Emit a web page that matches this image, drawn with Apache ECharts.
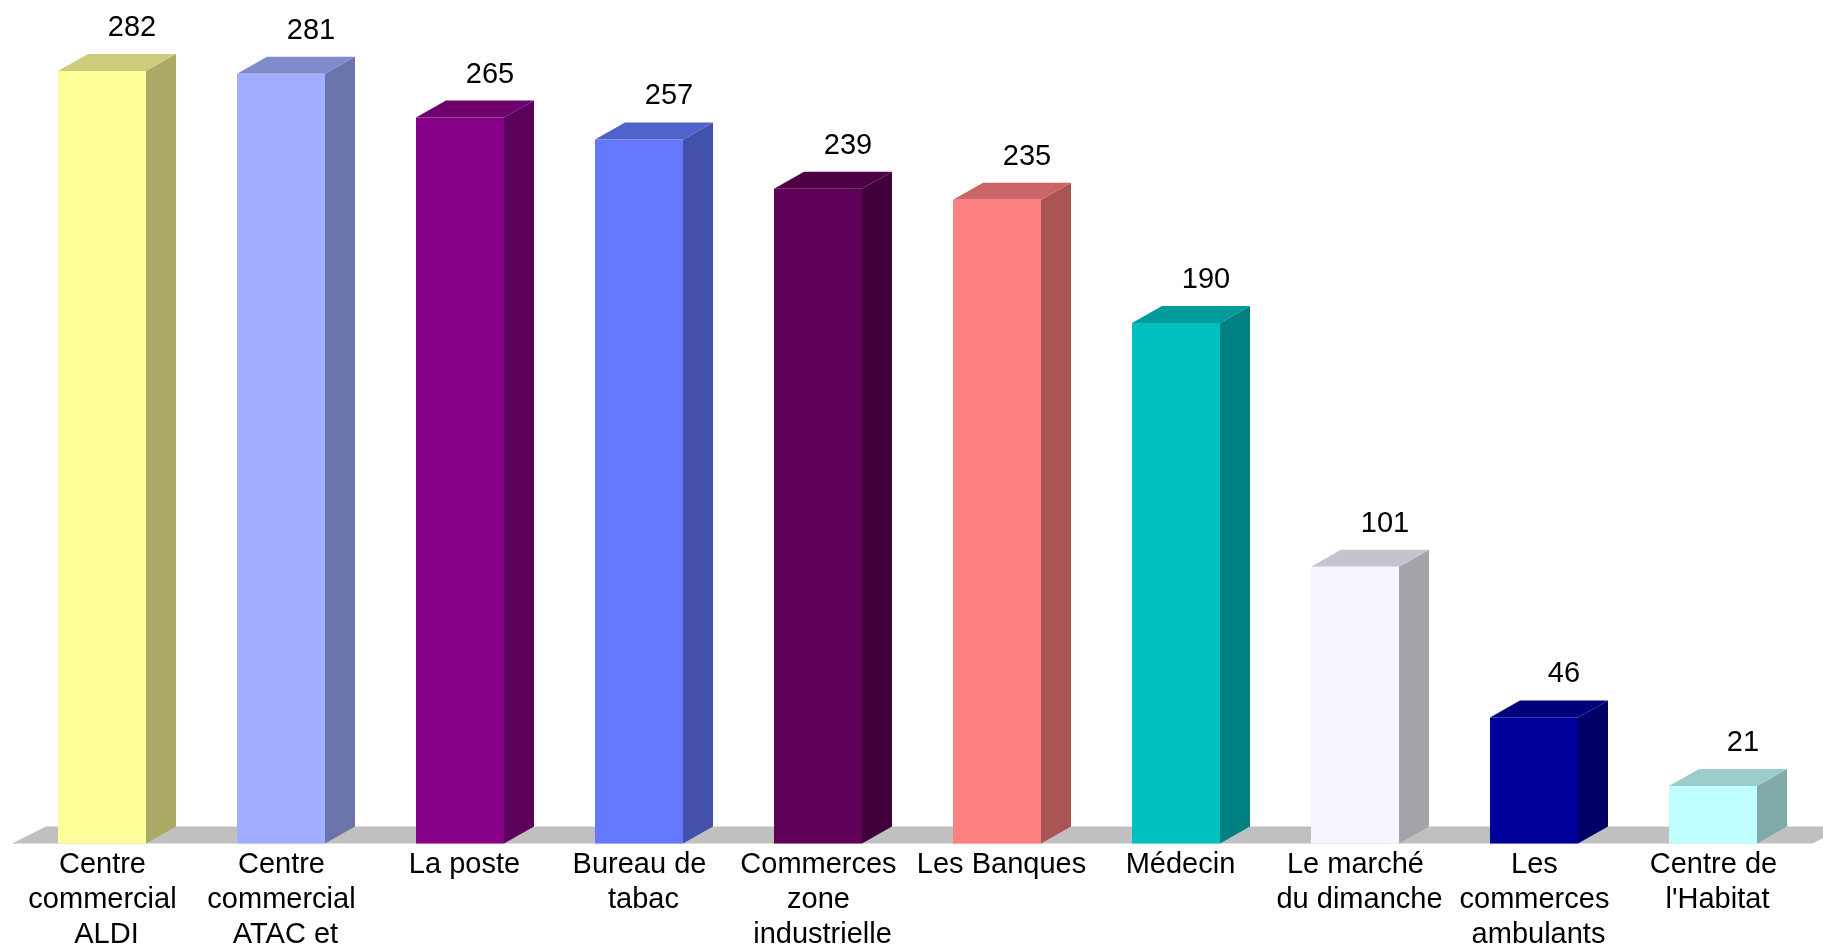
<!DOCTYPE html>
<html>
<head>
<meta charset="utf-8">
<script src="https://cdn.jsdelivr.net/npm/echarts@6/dist/echarts.min.js"></script>
<style>
html,body{margin:0;padding:0;background:#fff;overflow:hidden;}
#chart{width:1823px;height:946px;}
</style>
</head>
<body>
<div id="chart"></div>
<script>
const categories = [
  "Centre commercial ALDI",
  "Centre commercial ATAC et",
  "La poste",
  "Bureau de tabac",
  "Commerces zone industrielle",
  "Les Banques",
  "Médecin",
  "Le marché du dimanche",
  "Les commerces ambulants",
  "Centre de l'Habitat"
];
const values = [282, 281, 265, 257, 239, 235, 190, 101, 46, 21];
const frontColors = ["#FFFF99", "#A0AEFF", "#880088", "#6479FF", "#600058",
                     "#FF8080", "#00C0C0", "#F5F5FF", "#00009A", "#C0FFFF"];

const FONT = '"Liberation Sans", Arial, sans-serif';
const DX = 30, DY = 17;

function shade(hex, f) {
  const n = parseInt(hex.slice(1), 16);
  const r = Math.round(((n >> 16) & 255) * f);
  const g = Math.round(((n >> 8) & 255) * f);
  const b = Math.round((n & 255) * f);
  return 'rgb(' + r + ',' + g + ',' + b + ')';
}

const chart = echarts.init(document.getElementById('chart'));

function renderBar(params, api) {
  const idx = api.value(0);
  const val = api.value(1);
  const topPt = api.coord([idx, val]);
  const basePt = api.coord([idx, 0]);
  const band = api.size([1, 0])[0];
  const w = band * 0.4916;
  const l = topPt[0] - w / 2, r = l + w;
  const t = topPt[1], b = basePt[1];
  const c = frontColors[idx];
  return {
    type: 'group',
    children: [
      { type: 'polygon', shape: { points: [[r, b], [r + DX, b - DY], [r + DX, t - DY], [r, t]] },
        style: { fill: shade(c, 0.667) } },
      { type: 'polygon', shape: { points: [[l, t], [r, t], [r + DX, t - DY], [l + DX, t - DY]] },
        style: { fill: shade(c, 0.8) } },
      { type: 'rect', shape: { x: l, y: t, width: w, height: b - t },
        style: { fill: c } },
      { type: 'text', style: {
          text: String(val), x: (l + r) / 2 + DX, y: t - DY - 26,
          align: 'center', verticalAlign: 'middle',
          fontSize: 29, fontFamily: FONT, fill: '#000' } }
    ]
  };
}

function renderFloor(params, api) {
  const cs = params.coordSys;
  const b = api.coord([0, 0])[1];
  const fl = cs.x - 0.5, fr = cs.x + cs.width + 10;
  return {
    type: 'polygon',
    shape: { points: [[fl, b], [fr, b], [fr + 34, b - DY], [fl + 34, b - DY]] },
    style: { fill: '#C0C0C0' },
    z2: 0
  };
}

chart.setOption({
  animation: false,
  backgroundColor: '#ffffff',
  grid: { left: 12.5, right: 20.5, top: 21.65, bottom: 102.5, containLabel: false,
          outerBoundsMode: 'none' },
  xAxis: {
    type: 'category',
    data: categories,
    axisLine: { show: false },
    axisTick: { show: false },
    splitLine: { show: false },
    axisLabel: {
      interval: 0, margin: 4, color: '#000', fontSize: 29, lineHeight: 35,
      fontFamily: FONT, width: 176, overflow: 'break', align: 'center',
      padding: [0, 0, 0, 9], hideOverlap: false
    }
  },
  yAxis: {
    type: 'value', min: 0, max: 300, show: false, splitLine: { show: false }
  },
  series: [
    { type: 'custom', renderItem: renderFloor, data: [[0, 0]], z: 1, silent: true },
    { type: 'custom', renderItem: renderBar, data: values.map((v, i) => [i, v]), z: 2,
      encode: { x: 0, y: 1 } }
  ]
});
</script>
</body>
</html>
